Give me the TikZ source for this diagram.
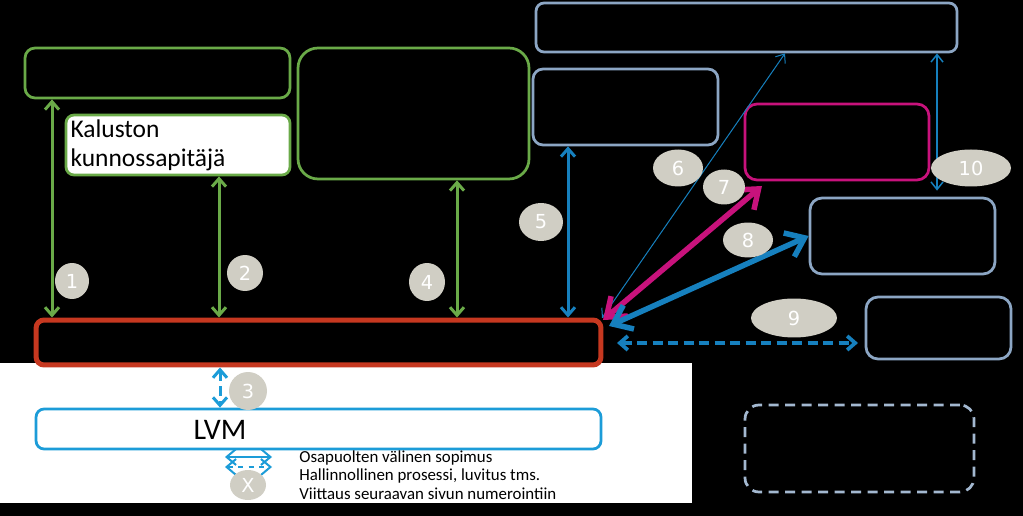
\documentclass[tikz,border=0pt]{standalone}
\usepackage{fontspec}
\setmainfont{Carlito}
\newfontfamily\numfont{DejaVu Sans}
\usetikzlibrary{arrows.meta,shapes.geometric}

\definecolor{grn}{RGB}{106,170,72}
\definecolor{steel}{RGB}{140,166,196}
\definecolor{mag}{RGB}{200,18,124}
\definecolor{rd}{RGB}{198,56,32}
\definecolor{blu}{RGB}{22,128,190}
\definecolor{lblu}{RGB}{28,156,216}
\definecolor{numgray}{RGB}{208,206,196}

\tikzset{
  box/.style={draw,rounded corners=2mm,line width=0.55mm,inner sep=0pt},
  num/.style={ellipse,fill=numgray,text=white,inner sep=0pt,
    font=\numfont\fontsize{11}{11}\selectfont},
  lnk/.style={<->,line width=0.6mm,>={Straight Barb[length=1.6mm,width=2.8mm]}},
  fat/.style={<->,line width=1.1mm,>={Straight Barb[length=3.4mm,width=5.2mm]}},
  thin/.style={<->,line width=0.3mm,>={Straight Barb[length=1.5mm,width=2.4mm]}}
}

\begin{document}
\begin{tikzpicture}[x=0.02cm,y=-0.02cm]

\useasboundingbox (0,0) rectangle (1023,516);
\fill[black] (0,0) rectangle (1023,516);
\fill[white] (0,363) rectangle (692,503);

% boxes
\node[box,draw=grn,minimum width=5.3cm,minimum height=1.0cm] (A) at (157.5,73) {};
\node[box,draw=grn,fill=white,rounded corners=1.6mm,minimum width=4.48cm,minimum height=1.2cm,
  text width=4.3cm,align=left,font=\fontsize{14.5}{16.5}\selectfont] (K) at (178,145) {Kaluston\\kunnossapitäjä};
\node[box,draw=grn,rounded corners=4mm,minimum width=4.62cm,minimum height=2.62cm] (B) at (413.5,113.5) {};
\node[box,draw=steel,rounded corners=1.6mm,minimum width=8.42cm,minimum height=0.98cm] (T) at (746.5,27.5) {};
\node[box,draw=steel,minimum width=3.7cm,minimum height=1.52cm] (C) at (625.5,107) {};
\node[box,draw=mag,rounded corners=2.4mm,minimum width=3.68cm,minimum height=1.52cm] (M) at (837,142) {};
\node[box,draw=steel,rounded corners=2.4mm,minimum width=3.7cm,minimum height=1.52cm] (D) at (902.5,236) {};
\node[box,draw=steel,rounded corners=2.4mm,minimum width=2.9cm,minimum height=1.24cm] (E) at (938.5,328) {};
\node[box,draw=steel!80,dashed,dash pattern=on 2mm off 1.3mm,rounded corners=2.8mm,
  minimum width=4.58cm,minimum height=1.74cm] (F) at (859.5,448.5) {};
\node[box,draw=rd,line width=1mm,rounded corners=1.6mm,minimum width=11.3cm,minimum height=0.9cm] (R) at (318.5,342.5) {};
\node[box,draw=lblu,fill=white,rounded corners=1.6mm,minimum width=11.3cm,minimum height=0.8cm] (L) at (318.5,429) {};
\node[font=\fontsize{17}{19}\selectfont] (lvm) at (220,430) {LVM};

% arrow positions
\coordinate (x1) at (52,0);
\coordinate (x2) at (219,0);
\coordinate (x3) at (220,0);
\coordinate (x4) at (457,0);
\coordinate (x5) at (568,0);
\coordinate (x6) at (785,0);
\coordinate (x10) at (937,0);
\coordinate (r6) at (602,318);
\coordinate (r7) at (603,320);
\coordinate (r8) at (609,326);
\coordinate (m7) at (762,186);
\coordinate (r9) at (617,343);
\coordinate (e9) at (858,343);

\draw[lnk,grn] (A.south -| x1) -- (R.north -| x1);
\draw[lnk,grn] (K.south -| x2) -- (R.north -| x2);
\draw[lnk,grn] (B.south -| x4) -- (R.north -| x4);
\draw[lnk,blu] (C.south -| x5) -- (R.north -| x5);
\draw[lnk,lblu,dashed,dash pattern=on 2mm off 1mm] (R.south -| x3) -- (L.north -| x3);
\draw[thin,blu,line width=0.2mm] (r6) -- (T.south -| x6);
\draw[fat,mag] (r7) -- (m7);
\draw[fat,blu] (r8) -- (D.west);
\draw[lnk,blu,line width=0.75mm,dash pattern=on 2mm off 1.1mm] (r9) -- (e9);
\draw[thin,blu,shorten >=1.2mm] (T.south -| x10) -- (D.north -| x10);

% numbers
\node[num,minimum width=0.68cm,minimum height=0.72cm] (n1) at (72,281) {1};
\node[num,minimum width=0.72cm,minimum height=0.72cm] (n2) at (245,273) {2};
\node[num,minimum width=0.76cm,minimum height=0.76cm] (n3) at (248,391) {3};
\node[num,minimum width=0.72cm,minimum height=0.76cm] (n4) at (427,282) {4};
\node[num,minimum width=0.88cm,minimum height=0.76cm] (n5) at (541,222) {5};
\node[num,minimum width=1.0cm,minimum height=0.74cm] (n6) at (678,168) {6};
\node[num,minimum width=0.84cm,minimum height=0.7cm] (n7) at (724,187) {7};
\node[num,minimum width=1.0cm,minimum height=0.7cm] (n8) at (748,240) {8};
\node[num,minimum width=1.72cm,minimum height=0.78cm] (n9) at (794,318) {9};
\node[num,minimum width=1.6cm,minimum height=0.74cm] (n10) at (971,168) {10};

% legend
\coordinate (g1) at (225,457);
\coordinate (g2) at (272,457);
\coordinate (g3) at (225,467);
\coordinate (g4) at (272,467);
\draw[lnk,lblu,line width=0.4mm,>={Straight Barb[length=1.9mm,width=3.2mm]}] (g1) -- (g2);
\draw[lnk,lblu,line width=0.4mm,dashed,>={Straight Barb[length=1.9mm,width=3.2mm]}] (g3) -- (g4);
\node[num,minimum width=0.72cm,minimum height=0.6cm] (nx) at (248,485) {X};
\node[anchor=west,align=left,font=\fontsize{9.6}{10.4}\selectfont,inner sep=0pt] (leg) at (299,475)
  {Osapuolten välinen sopimus\\Hallinnollinen prosessi, luvitus tms.\\Viittaus seuraavan sivun numerointiin};

\end{tikzpicture}
\end{document}
